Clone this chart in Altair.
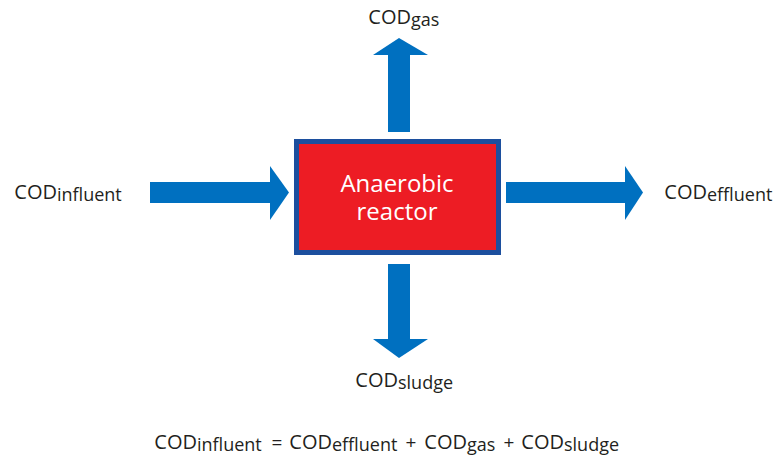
import altair as alt
import pandas as pd

# ---- diagram content ----
label_main = ["COD", "COD", "COD", "COD"]
label_sub = ["gas", "influent", "effluent", "sludge"]
label_anchor_x = [411, 57, 707, 398]
label_baseline_y = [23, 198, 198, 386]

eq_main = ["COD", "COD", "COD", "COD"]
eq_sub = ["influent", "effluent", "gas", "sludge"]
eq_anchor_x = [197, 332, 467, 564]
eq_baseline_y = [448, 448, 448, 448]
eq_ops = ["=", "+", "+"]
eq_ops_x = [277, 411, 509]

reactor_lines = ["Anaerobic", "reactor"]
reactor_x = [397, 397]
reactor_y = [191, 219]

# box (stroke centre line)
box = dict(x=[296.5], x2=[498.5], y=[140.5], y2=[251.5])

# arrow shafts
shaft_id = ["influent", "effluent", "gas", "sludge"]
shaft_x1 = [150, 506, 388, 388]
shaft_x2 = [271, 626, 410, 410]
shaft_y1 = [181, 181, 53, 263]
shaft_y2 = [202, 202, 131, 339]

# arrow heads, horizontal arrows (points along x, spanning y..y2)
hhead_id = ["influent", "influent", "effluent", "effluent"]
hhead_x = [270, 289, 625, 643]
hhead_y1 = [165, 191.5, 165, 191.5]
hhead_y2 = [219, 191.5, 219, 191.5]

# arrow heads, vertical arrows (points along y, spanning x..x2)
vhead_id = ["gas", "gas", "sludge", "sludge"]
vhead_y = [54, 37, 338, 357]
vhead_x1 = [373, 399, 373, 399]
vhead_x2 = [428, 399, 428, 399]

FONT = "Open Sans"
TXT = "#231f20"
BLUE = "#0070c0"

xs = alt.Scale(domain=[8, 773], nice=False, zero=False)
ys = alt.Scale(domain=[8, 453], nice=False, zero=False, reverse=True)

def X(f):
    return alt.X(f, type="quantitative", scale=xs, axis=None)

def Y(f):
    return alt.Y(f, type="quantitative", scale=ys, axis=None)

shafts = alt.Chart(pd.DataFrame(dict(id=shaft_id, x=shaft_x1, x2=shaft_x2, y=shaft_y1, y2=shaft_y2))).mark_rect(
    color=BLUE
).encode(x=X("x"), x2="x2", y=Y("y"), y2="y2")

hheads = alt.Chart(pd.DataFrame(dict(id=hhead_id, x=hhead_x, y=hhead_y1, y2=hhead_y2))).mark_area(
    color=BLUE, orient="vertical"
).encode(x=X("x"), y=Y("y"), y2="y2", detail="id:N")

vheads = alt.Chart(pd.DataFrame(dict(id=vhead_id, y=vhead_y, x=vhead_x1, x2=vhead_x2))).mark_area(
    color=BLUE, orient="horizontal"
).encode(y=Y("y"), x=X("x"), x2="x2", detail="id:N")

boxc = alt.Chart(pd.DataFrame(box)).mark_rect(
    fill="#ed1c24", stroke="#1c4f9e", strokeWidth=5
).encode(x=X("x"), x2="x2", y=Y("y"), y2="y2")

lab = pd.DataFrame(dict(
    main=label_main + eq_main,
    sub=label_sub + eq_sub,
    x=label_anchor_x + eq_anchor_x,
    y=label_baseline_y + eq_baseline_y,
))
lab["ys"] = lab["y"] + 2

mains = alt.Chart(lab).mark_text(
    align="right", baseline="alphabetic", font=FONT, fontSize=20, color=TXT
).encode(x=X("x"), y=Y("y"), text="main:N")

subs = alt.Chart(lab).mark_text(
    align="left", baseline="alphabetic", font=FONT, fontSize=18, color=TXT
).encode(x=X("x"), y=Y("ys"), text="sub:N")

ops = alt.Chart(pd.DataFrame(dict(t=eq_ops, x=eq_ops_x, y=[448] * 3))).mark_text(
    align="center", baseline="alphabetic", font=FONT, fontSize=19, color=TXT
).encode(x=X("x"), y=Y("y"), text="t:N")

reactor = alt.Chart(pd.DataFrame(dict(t=reactor_lines, x=reactor_x, y=reactor_y))).mark_text(
    align="center", baseline="alphabetic", font=FONT, fontSize=24, color="white"
).encode(x=X("x"), y=Y("y"), text="t:N")

chart = alt.layer(shafts, hheads, vheads, boxc, mains, subs, ops, reactor).properties(
    width=765, height=445, padding=0, background="white"
).configure_view(stroke=None)

chart.save("out.html", embed_options={"renderer": "svg", "actions": False})
